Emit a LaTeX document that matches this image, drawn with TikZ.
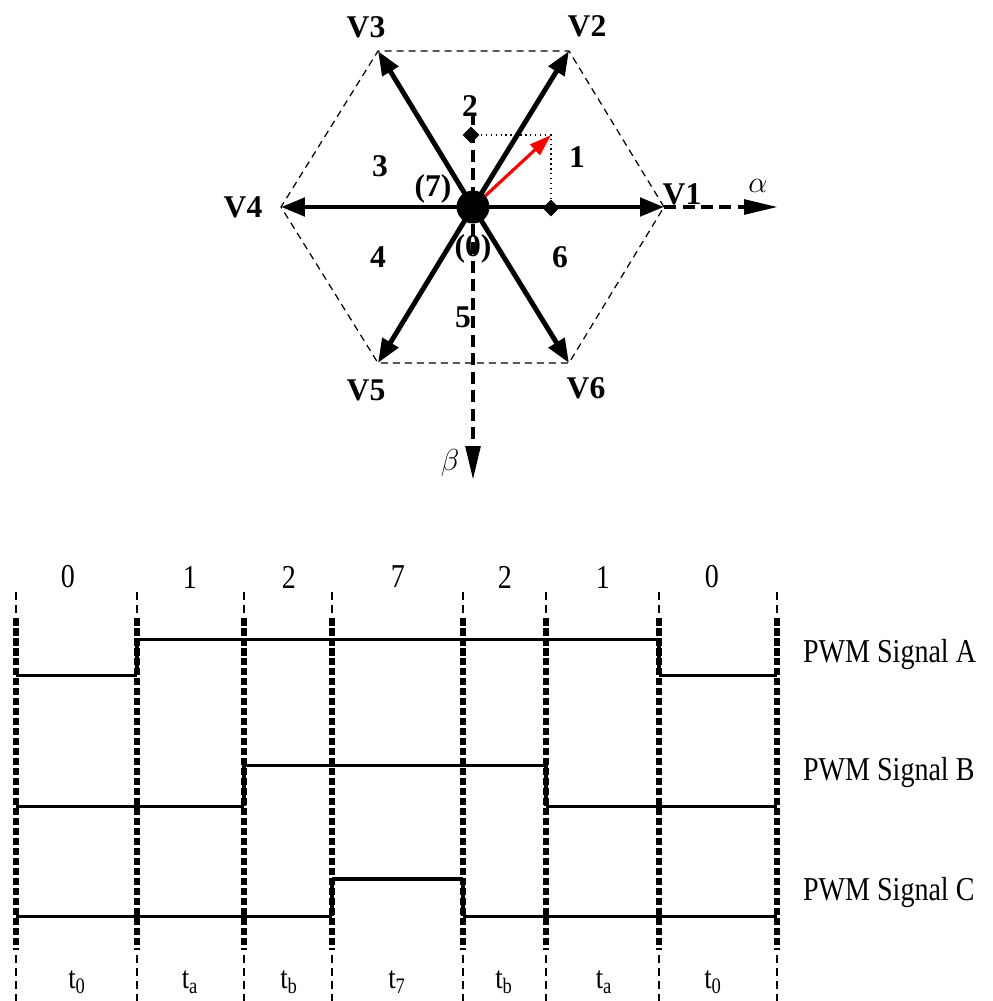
\documentclass[tikz,border=0pt]{standalone}
\usepackage{fontspec}
\setmainfont{Liberation Serif}
\usetikzlibrary{arrows.meta,shapes.geometric}

\tikzset{
	hexedge/.style={line width=0.7pt, dash pattern=on 1.4mm off 1mm},
	vecarrow/.style={line width=2.8pt, -{Triangle[length=4.8mm,width=3.6mm]}},
	axisarrow/.style={line width=2.4pt, dash pattern=on 2.4mm off 1.3mm, -{Triangle[length=6.8mm,width=2.9mm]}},
	vlabel/.style={font=\fontsize{18}{20}\selectfont\bfseries, inner sep=1pt},
	projdot/.style={shape=diamond, fill=black, inner sep=0pt, minimum size=0.34cm},
	thicktick/.style={line width=3.3pt, dash pattern=on 1.5mm off 0.5mm},
	thintick/.style={line width=1.1pt, dash pattern=on 1.5mm off 1.1mm},
	sigline/.style={line width=1.7pt},
	sigedge/.style={line width=2.8pt},
	seglabel/.style={font=\fontsize{19}{21}\selectfont, inner sep=1pt},
}
\newcommand{\narrow}[1]{\scalebox{0.84}[1]{#1}}

\begin{document}
\begin{tikzpicture}[x=0.02cm, y=-0.02cm]
	\useasboundingbox (0,0) rectangle (993,1001);
	% Hexagon, vectors and axes:
	\coordinate (O) at (473,207);
	\coordinate (V1) at (664,207);
	\coordinate (V2) at (569,51);
	\coordinate (V3) at (378,51);
	\coordinate (V4) at (281,207);
	\coordinate (V5) at (378,363);
	\coordinate (V6) at (569,363);
	\draw[hexedge] (V1) -- (V2) -- (V3) -- (V4) -- (V5) -- (V6) -- cycle;
	\coordinate (btop) at (473,113);
	\coordinate (bend) at (473,480);
	\coordinate (aend) at (778,207);
	\draw[axisarrow] (btop) -- (bend);
	\draw[axisarrow] (V1) -- (aend);
	\foreach \v in {V1,V2,V3,V4,V5,V6}
		\draw[vecarrow] (O) -- (\v);
	\node[projdot] (pb) at (471,135){};
	\node[projdot] (pa) at (551,208){};
	\coordinate (ref) at (551,135);
	\draw[dotted, line width=0.8pt] (pb.center) -- (ref) -- (pa.center);
	\draw[red, line width=1.8pt, -{Triangle[length=4.4mm,width=2.8mm]}] (484,197) -- (ref);
	\node[circle, fill=black, minimum size=0.66cm, inner sep=0pt] (zero) at (O){};
	\node[vlabel] (l1) at (682,194){V1};
	\node[vlabel] (l2) at (587,26){V2};
	\node[vlabel] (l3) at (366,27){V3};
	\node[vlabel] (l4) at (243,207){V4};
	\node[vlabel] (l5) at (366,390){V5};
	\node[vlabel] (l6) at (586,388){V6};
	\node[vlabel] (s1) at (577,157){1};
	\node[vlabel] (s2) at (470,106){2};
	\node[vlabel] (s3) at (380,166){3};
	\node[vlabel] (s4) at (378,257){4};
	\node[vlabel] (s5) at (463,317){5};
	\node[vlabel] (s6) at (560,257){6};
	\node[vlabel] (s7) at (433,189){(7)};
	\node[vlabel] (s0) at (473,249){(0)};
	\node[font=\fontsize{18}{20}\selectfont] (alpha) at (758,186){$\alpha$};
	\node[font=\fontsize{18}{20}\selectfont] (beta) at (450,463){$\beta$};
	% Switching sequence:
	\foreach \x in {16,137,244,332,463,546,659,777}{
		\draw[thintick] (\x,592) -- (\x,618);
		\draw[thicktick] (\x,618) -- (\x,950);
		\draw[thintick] (\x,955) -- (\x,1001);
	}
	\foreach \x/\s in {68/0,190/1,289/2,398/7,505/2,603/1,712/0}
		\node[seglabel] at (\x,577){\narrow{\s}};
	\foreach \x/\t in {77/0,190/a,289/b,397/7,504/b,604/a,713/0}
		\node[seglabel, font=\fontsize{18}{20}\selectfont] at (\x,982){\narrow{t\textsubscript{\t}}};
	\draw[sigline] (16,675) -- (137,675);
	\draw[sigedge] (137,675) -- (137,639);
	\draw[sigline] (137,639) -- (659,639);
	\draw[sigedge] (659,639) -- (659,675);
	\draw[sigline] (659,675) -- (777,675);
	\draw[sigline] (16,806) -- (244,806);
	\draw[sigedge] (244,806) -- (244,765);
	\draw[sigline] (244,765) -- (546,765);
	\draw[sigedge] (546,765) -- (546,806);
	\draw[sigline] (546,806) -- (777,806);
	\draw[sigline] (16,916) -- (332,916);
	\draw[sigedge] (332,916) -- (332,879);
	\draw[sigedge] (332,879) -- (463,879);
	\draw[sigedge] (463,879) -- (463,916);
	\draw[sigline] (463,916) -- (777,916);
	\node[seglabel, anchor=west] (pa) at (801,655){\narrow{PWM Signal A}};
	\node[seglabel, anchor=west] (pb) at (801,773){\narrow{PWM Signal B}};
	\node[seglabel, anchor=west] (pc) at (801,893){\narrow{PWM Signal C}};
\end{tikzpicture}
\end{document}
